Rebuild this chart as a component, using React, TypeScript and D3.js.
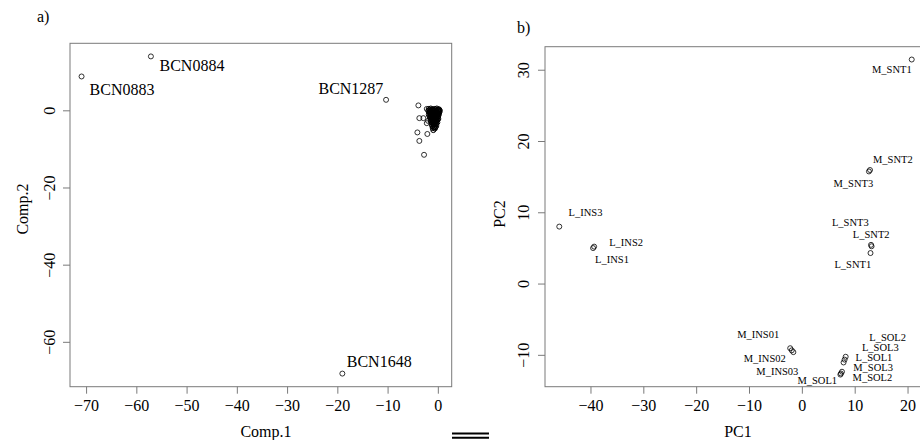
import React from "react";
import * as d3 from "d3";

// ---------- Panel a data ----------
const aLabeledNames = ["BCN0883", "BCN0884", "BCN1287", "BCN1648"];
const aLabeledX = [-71.0, -57.2, -10.4, -19.1];
const aLabeledY = [8.9, 14.1, 2.85, -68.1];

const aOutlierX = [-3.97, -2.3, -3.78, -2.98, -2.3, -4.17, -2.19, -3.78, -2.84, -2.05];
const aOutlierY = [1.4, 0.5, -1.9, -1.9, -3.2, -5.6, -6.0, -7.8, -11.4, -2.6];

const aClusterX = [
  -1.9, -1.5, -1.1, -0.7, -0.3, 0.1,
  -2.0, -1.6, -1.2, -0.8, -0.4, 0.0, 0.3,
  -1.8, -1.4, -1.0, -0.6, -0.2, 0.2,
  -1.9, -1.5, -1.1, -0.7, -0.3, 0.1,
  -1.7, -1.3, -0.9, -0.5, -0.1,
  -1.6, -1.2, -0.8, -0.4, 0.0,
  -1.5, -1.1, -0.7, -0.3,
  -1.4, -1.0, -0.6, -0.2,
  -1.3, -0.9, -0.5,
  -1.2, -0.8, -0.4,
  -1.1, -0.7,
  -1.0,
  -1.7, -1.3, -0.9, -0.5, -0.1, 0.2,
  -1.8, -1.4, -1.0, -0.6, -0.2, 0.1,
  -1.6, -1.2, -0.8, -0.4, 0.0,
  -1.5, -1.1, -0.7, -0.3, 0.0,
  -1.4, -1.0, -0.6, -0.2,
  -1.3, -0.9, -0.5, -0.2,
  -1.2, -0.8, -0.4,
  -1.1, -0.7, -0.4,
  -0.9, -0.6,
];
const aClusterY = [
  0.5, 0.6, 0.4, 0.5, 0.6, 0.4,
  0.0, -0.1, 0.1, 0.0, -0.1, 0.1, 0.0,
  -0.5, -0.6, -0.4, -0.5, -0.6, -0.4,
  -1.0, -1.1, -0.9, -1.0, -1.1, -0.9,
  -1.5, -1.6, -1.4, -1.5, -1.6,
  -2.0, -2.1, -1.9, -2.0, -2.1,
  -2.5, -2.6, -2.4, -2.5,
  -3.0, -3.1, -2.9, -3.0,
  -3.5, -3.6, -3.4,
  -4.0, -4.1, -3.9,
  -4.5, -4.6,
  -5.0,
  0.25, 0.3, 0.2, 0.3, 0.2, 0.25,
  -0.25, -0.3, -0.2, -0.3, -0.25, -0.2,
  -0.75, -0.8, -0.7, -0.75, -0.8,
  -1.25, -1.3, -1.2, -1.25, -1.3,
  -1.75, -1.8, -1.7, -1.75,
  -2.25, -2.3, -2.2, -2.25,
  -2.75, -2.8, -2.7,
  -3.25, -3.3, -3.2,
  -4.25, -4.3,
];

const aXTicks = [-70, -60, -50, -40, -30, -20, -10, 0];
const aYTicks = [0, -20, -40, -60];

// ---------- Panel b data ----------
const bNames = [
  "M_SNT1", "M_SNT2", "M_SNT3", "L_SNT3", "L_SNT2", "L_SNT1",
  "L_INS3", "L_INS2", "L_INS1", "M_INS01", "M_INS02", "M_INS03",
  "L_SOL2", "L_SOL3", "L_SOL1", "M_SOL3", "M_SOL2", "M_SOL1",
];
const bPC1 = [20.7, 12.8, 12.6, 13.0, 13.1, 12.9, -46.0, -39.4, -39.6, -2.3, -2.0, -1.7, 8.2, 8.0, 7.8, 7.5, 7.3, 7.2];
const bPC2 = [31.5, 16.0, 15.8, 5.5, 5.3, 4.35, 8.06, 5.25, 5.05, -9.0, -9.3, -9.55, -10.2, -10.6, -11.0, -12.3, -12.55, -12.7];

const bXTicks = [-40, -30, -20, -10, 0, 10, 20];
const bYTicks = [-10, 0, 10, 20, 30];

// label layout (pixel offsets from the point; anchor)
const aLabelLayout = [
  { dx: 8, dy: 18.7, anchor: "start" },
  { dx: 8.6, dy: 14.7, anchor: "start" },
  { dx: -2.7, dy: -5.4, anchor: "end" },
  { dx: 4.4, dy: -7, anchor: "start" },
];
const bLabelLayout = [
  { dx: 0, dy: 13, anchor: "end" },
  { dx: 3, dy: -7.5, anchor: "start" },
  { dx: 4.3, dy: 16, anchor: "end" },
  { dx: -2.4, dy: -19, anchor: "end" },
  { dx: -18.7, dy: -8.2, anchor: "start" },
  { dx: 0.7, dy: 14.5, anchor: "end" },
  { dx: 9.3, dy: -10.2, anchor: "start" },
  { dx: 15, dy: -0.5, anchor: "start" },
  { dx: 2, dy: 15, anchor: "start" },
  { dx: -11, dy: -10, anchor: "end" },
  { dx: -6, dy: 11.5, anchor: "end" },
  { dx: 5, dy: 22.5, anchor: "end" },
  { dx: 23.6, dy: -15.3, anchor: "start" },
  { dx: 17.3, dy: -9.0, anchor: "start" },
  { dx: 12, dy: -1.5, anchor: "start" },
  { dx: 11.3, dy: -0.8, anchor: "start" },
  { dx: 11.7, dy: 7.8, anchor: "start" },
  { dx: -3.3, dy: 9.1, anchor: "end" },
];

const FONT = "'Liberation Serif', 'Times New Roman', serif";
const AXIS = "#7a7a7a";
const minus = (v: number) => (v < 0 ? "\u2212" + Math.abs(v) : String(v));

export default function App() {
  // Panel a
  const aBox = { l: 70, r: 451.7, t: 43.3, b: 386.7 };
  const ax = d3.scaleLinear().domain([-73.3, 2.66]).range([aBox.l, aBox.r]);
  const ay = d3.scaleLinear().domain([-71.5, 17.5]).range([aBox.b, aBox.t]);

  // Panel b
  const bBox = { l: 545, r: 926, t: 46.7, b: 386.7 };
  const bx = d3.scaleLinear().domain([-48.7, 23.4]).range([bBox.l, bBox.r]);
  const by = d3.scaleLinear().domain([-14.4, 33.3]).range([bBox.b, bBox.t]);

  const r = 2.5;
  const tickLen = 7;

  return (
    <svg
      width={920}
      height={440}
      style={{ position: "absolute", left: 0, top: 0, background: "#fff" }}
      fontFamily={FONT}
    >
      <rect x={0} y={0} width={920} height={440} fill="#fff" />
      {/* ---------- Panel a ---------- */}
      <text x={37} y={22} fontSize={16}>a)</text>
      <rect x={aBox.l} y={aBox.t} width={aBox.r - aBox.l} height={aBox.b - aBox.t} fill="none" stroke={AXIS} strokeWidth={1} />
      {aXTicks.map((t) => (
        <g key={"ax" + t}>
          <line x1={ax(t)} x2={ax(t)} y1={aBox.b} y2={aBox.b + tickLen} stroke={AXIS} />
          <text x={ax(t)} y={410.5} fontSize={16} textAnchor="middle">{minus(t)}</text>
        </g>
      ))}
      {aYTicks.map((t) => (
        <g key={"ay" + t}>
          <line x1={aBox.l - tickLen} x2={aBox.l} y1={ay(t)} y2={ay(t)} stroke={AXIS} />
          <text transform={`translate(55,${ay(t)}) rotate(-90)`} fontSize={16} textAnchor="middle">{minus(t)}</text>
        </g>
      ))}
      <text x={266} y={437} fontSize={16} textAnchor="middle">Comp.1</text>
      <text transform={`translate(28,209) rotate(-90)`} fontSize={16} textAnchor="middle">Comp.2</text>

      {aClusterX.map((v, i) => (
        <circle key={"ac" + i} cx={ax(v)} cy={ay(aClusterY[i])} r={r} fill="none" stroke="#000" strokeWidth={1} />
      ))}
      {aOutlierX.map((v, i) => (
        <circle key={"ao" + i} cx={ax(v)} cy={ay(aOutlierY[i])} r={r} fill="none" stroke="#000" strokeWidth={0.8} />
      ))}
      {aLabeledX.map((v, i) => (
        <g key={"al" + i}>
          <circle cx={ax(v)} cy={ay(aLabeledY[i])} r={r} fill="none" stroke="#000" strokeWidth={0.8} />
          <text
            x={ax(v) + aLabelLayout[i].dx}
            y={ay(aLabeledY[i]) + aLabelLayout[i].dy}
            fontSize={16}
            textAnchor={aLabelLayout[i].anchor as any}
          >
            {aLabeledNames[i]}
          </text>
        </g>
      ))}

      {/* separator mark */}
      <line x1={452} x2={489} y1={433.5} y2={433.5} stroke="#000" strokeWidth={2} />
      <line x1={452} x2={489} y1={437.7} y2={437.7} stroke="#000" strokeWidth={2} />

      {/* ---------- Panel b ---------- */}
      <text x={517} y={33} fontSize={16}>b)</text>
      <rect x={bBox.l} y={bBox.t} width={bBox.r - bBox.l} height={bBox.b - bBox.t} fill="none" stroke={AXIS} strokeWidth={1} />
      {bXTicks.map((t) => (
        <g key={"bx" + t}>
          <line x1={bx(t)} x2={bx(t)} y1={bBox.b} y2={bBox.b + tickLen} stroke={AXIS} />
          <text x={bx(t)} y={411} fontSize={16} textAnchor="middle">{minus(t)}</text>
        </g>
      ))}
      {bYTicks.map((t) => (
        <g key={"by" + t}>
          <line x1={bBox.l - tickLen} x2={bBox.l} y1={by(t)} y2={by(t)} stroke={AXIS} />
          <text transform={`translate(529,${by(t)}) rotate(-90)`} fontSize={16} textAnchor="middle">{minus(t)}</text>
        </g>
      ))}
      <text x={738} y={437} fontSize={16} textAnchor="middle">PC1</text>
      <text transform={`translate(505,214) rotate(-90)`} fontSize={16} textAnchor="middle">PC2</text>

      {bPC1.map((v, i) => (
        <g key={"bp" + i}>
          <circle cx={bx(v)} cy={by(bPC2[i])} r={r} fill="none" stroke="#000" strokeWidth={0.8} />
          <text
            x={bx(v) + bLabelLayout[i].dx}
            y={by(bPC2[i]) + bLabelLayout[i].dy}
            fontSize={10.5}
            textAnchor={bLabelLayout[i].anchor as any}
          >
            {bNames[i]}
          </text>
        </g>
      ))}
    </svg>
  );
}
